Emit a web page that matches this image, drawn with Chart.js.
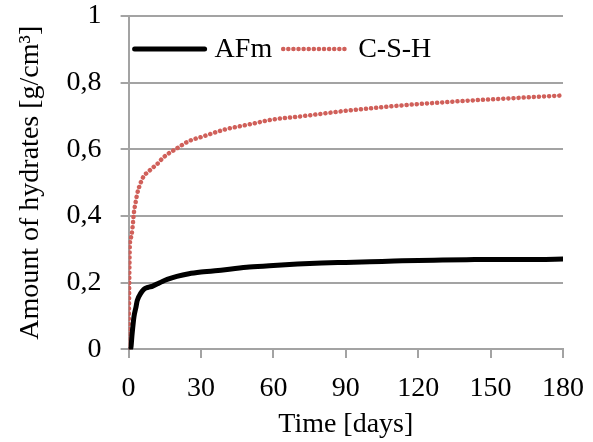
<!DOCTYPE html>
<html>
<head>
<meta charset="utf-8">
<script src="https://cdn.jsdelivr.net/npm/chart.js@4"></script>
<style>
  html, body { margin: 0; padding: 0; background: #fff; }
  #wrap { width: 593px; height: 442px; }
</style>
</head>
<body>
<div id="wrap"><canvas id="myChart"></canvas></div>
<script>
// time in days
const days = [0, 0.5, 0.8, 1.5, 2.2, 3, 3.6, 5, 6.3, 8, 10, 12, 14, 16, 20, 25, 30, 40, 50, 60, 70, 80, 90, 100, 110, 120, 130, 140, 150, 160, 170, 180];
// amount of hydrates [g/cm3]
const afm = [0, 0, 0, 0.05, 0.097, 0.125, 0.147, 0.168, 0.18, 0.186, 0.19, 0.197, 0.204, 0.21, 0.219, 0.227, 0.232, 0.239, 0.247, 0.252, 0.256, 0.259, 0.261, 0.263, 0.265, 0.267, 0.268, 0.269, 0.27, 0.27, 0.27, 0.271];
const csh = [0, 0.31, 0.33, 0.357, 0.41, 0.445, 0.468, 0.5, 0.52, 0.532, 0.545, 0.557, 0.573, 0.585, 0.603, 0.625, 0.637, 0.66, 0.675, 0.69, 0.698, 0.707, 0.716, 0.723, 0.73, 0.736, 0.741, 0.746, 0.75, 0.754, 0.758, 0.762];
const xTicks = [0, 30, 60, 90, 120, 150, 180];
const yTicks = [0, 0.2, 0.4, 0.6, 0.8, 1];

const serif = 'Liberation Serif';
const gridCol = '#a3a3a3';

const pts = arr => days.map((d, i) => ({ x: d, y: arr[i] }));

// legend drawn inside the plot area, one row, like the excel one
const innerLegend = {
    id: 'innerLegend',
    afterDatasetsDraw(chart) {
        const c = chart.ctx;
        const area = chart.chartArea;
        let x = area.left + 6;
        const y = area.top + 33;
        c.save();
        c.font = '28px ' + serif;
        c.textBaseline = 'middle';
        chart.data.datasets.forEach(ds => {
            const dotted = !!ds.borderDash;
            c.beginPath();
            c.strokeStyle = ds.borderColor;
            c.lineWidth = ds.borderWidth;
            c.lineCap = 'round';
            c.setLineDash(ds.borderDash || []);
            c.moveTo(x, y);
            c.lineTo(x + (dotted ? 66 : 70), y);
            c.stroke();
            c.setLineDash([]);
            x += dotted ? 75 : 80;
            c.fillStyle = '#000';
            c.fillText(ds.label, x, y + 1);
            x += c.measureText(ds.label).width + 11;
        });
        c.restore();
    }
};

const ctx = document.getElementById('myChart').getContext('2d');
const myChart = new Chart(ctx, {
    type: 'line',
    data: {
        datasets: [{
            label: 'AFm',
            data: pts(afm),
            borderColor: '#000000',
            borderWidth: 5,
            borderCapStyle: 'round',
            pointRadius: 0,
            cubicInterpolationMode: 'monotone'
        }, {
            label: 'C-S-H',
            data: pts(csh),
            borderColor: '#d0605a',
            borderWidth: 4.5,
            borderCapStyle: 'round',
            borderDash: [0.1, 5],
            pointRadius: 0,
            cubicInterpolationMode: 'monotone'
        }]
    },
    options: {
        responsive: true,
        maintainAspectRatio: false,
        animation: false,
        layout: { padding: { top: 0, right: 30, left: 14, bottom: 3 } },
        plugins: {
            tooltip: { enabled: false },
            legend: { display: false }
        },
        scales: {
            x: {
                type: 'linear',
                min: 0,
                max: 180,
                afterBuildTicks: axis => { axis.ticks = xTicks.map(v => ({ value: v })); },
                // long tick slot, only the first 8px drawn
                grid: { display: true, drawOnChartArea: false, drawTicks: true, tickLength: 22, tickBorderDash: [8, 100], color: gridCol, lineWidth: 2 },
                border: { color: gridCol, width: 2 },
                ticks: { color: '#000', font: { family: serif, size: 28 }, padding: 0, maxRotation: 0, autoSkip: false },
                title: { display: true, text: 'Time [days]', color: '#000', font: { family: serif, size: 28, lineHeight: 1 }, padding: { top: 6, bottom: 0 } }
            },
            y: {
                min: 0,
                max: 1,
                afterBuildTicks: axis => { axis.ticks = yTicks.map(v => ({ value: v })); },
                grid: { color: gridCol, lineWidth: 2, drawTicks: true, tickLength: 27, tickBorderDash: [8, 19], tickBorderDashOffset: 8 },
                border: { color: gridCol, width: 2 },
                ticks: {
                    color: '#000',
                    font: { family: serif, size: 28, lineHeight: 1.15 },
                    padding: 0,
                    callback: v => String(v).replace('.', ',')
                },
                title: { display: true, text: 'Amount of hydrates [g/cm³]', color: '#000', font: { family: serif, size: 28 }, padding: { top: 0, bottom: 19 } }
            }
        }
    },
    plugins: [innerLegend]
});
</script>
</body>
</html>
